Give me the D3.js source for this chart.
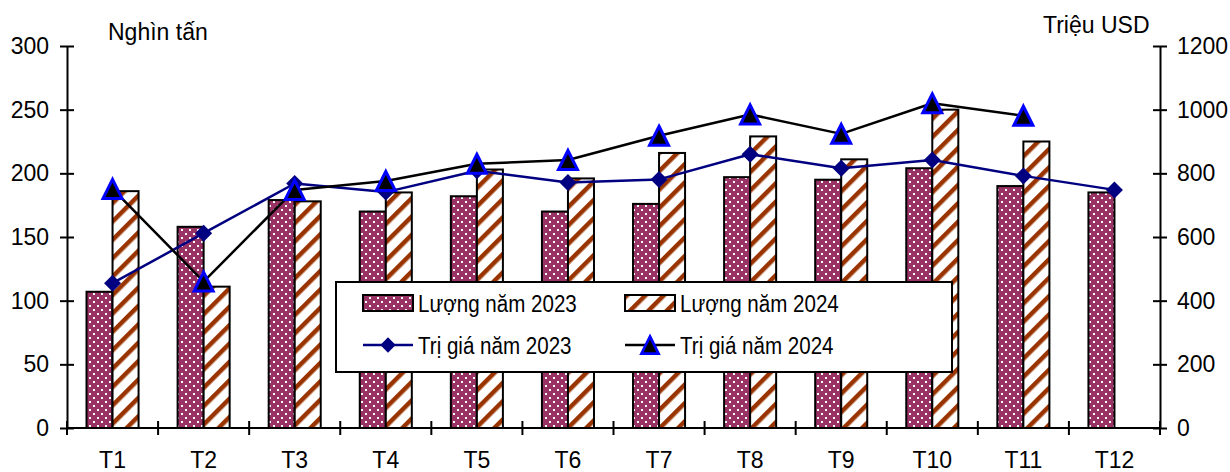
<!DOCTYPE html>
<html>
<head>
<meta charset="utf-8">
<script src="https://cdn.jsdelivr.net/npm/d3@7"></script>
<style>
  html, body { margin: 0; padding: 0; background: #fff; }
  svg { display: block; font-family: "Liberation Sans", Arial, sans-serif; }
</style>
</head>
<body>
<svg id="chart" width="1230" height="472"></svg>
<script>
// Monthly categories
const months = ["T1", "T2", "T3", "T4", "T5", "T6", "T7", "T8", "T9", "T10", "T11", "T12"];
// Volume (thousand tonnes) – left axis
const qty2023 = [107, 158, 179, 170, 182, 170, 176, 197, 195, 204, 190, 185];
const qty2024 = [186, 111, 178, 185, 203, 196, 216, 229, 211, 250, 225, null];
// Value (million USD) – right axis
const val2023 = [455, 612, 768, 741, 808, 771, 781, 860, 816, 842, 792, 748];
const val2024 = [751, 460, 748, 776, 830, 842, 918, 985, 924, 1020, 981, null];
// Axis ticks
const leftTicks = [0, 50, 100, 150, 200, 250, 300];
const rightTicks = [0, 200, 400, 600, 800, 1000, 1200];
const seriesKeys = ["2023", "2024"];

const C = {
  qty23: "#993366",
  stripe: "#993300",
  line23: "#000080",
  line24: "#000000",
  tri: "#0000ff"
};

const svg = d3.select("#chart");
const L = 67, R = 1160, T = 46, B = 428;

const x = d3.scaleBand().domain(months).range([L, R]).paddingInner(0).paddingOuter(0);
const xs = d3.scaleBand().domain(seriesKeys).range([0, x.bandwidth()]).paddingInner(0).paddingOuter(0.75);
const yL = d3.scaleLinear().domain([0, 300]).range([B, T]);
const yR = d3.scaleLinear().domain([0, 1200]).range([B, T]);

// Fill patterns
const defs = svg.append("defs");
const dots = defs.append("pattern").attr("id", "dots")
  .attr("patternUnits", "userSpaceOnUse").attr("width", 8).attr("height", 8);
dots.append("rect").attr("width", 8).attr("height", 8).attr("fill", C.qty23);
dots.append("rect").attr("x", 1).attr("y", 1).attr("width", 2).attr("height", 2).attr("fill", "#fff");
dots.append("rect").attr("x", 5).attr("y", 5).attr("width", 2).attr("height", 2).attr("fill", "#fff");

const stripes = defs.append("pattern").attr("id", "stripes")
  .attr("patternUnits", "userSpaceOnUse").attr("width", 13).attr("height", 13)
  .attr("patternTransform", "rotate(45)");
stripes.append("rect").attr("width", 13).attr("height", 13).attr("fill", "#fff");
stripes.append("rect").attr("width", 4.5).attr("height", 13).attr("fill", C.stripe);

// Bars
const barData = [];
months.forEach((m, i) => {
  if (qty2023[i] != null) barData.push({ m, k: "2023", v: qty2023[i] });
  if (qty2024[i] != null) barData.push({ m, k: "2024", v: qty2024[i] });
});
svg.append("g").selectAll("rect").data(barData).join("rect")
  .attr("x", d => x(d.m) + xs(d.k))
  .attr("y", d => yL(d.v))
  .attr("width", xs.bandwidth())
  .attr("height", d => yL(0) - yL(d.v))
  .attr("fill", d => d.k === "2023" ? "url(#dots)" : "url(#stripes)")
  .attr("stroke", "#000").attr("stroke-width", 2);

// Axes
const axisStyle = g => {
  g.selectAll("path.domain").attr("stroke", "#000").attr("stroke-width", 2);
  g.selectAll(".tick line").attr("stroke", "#000").attr("stroke-width", 2);
  g.selectAll(".tick text").attr("fill", "#000").attr("font-size", 23)
    .attr("font-family", "Liberation Sans, Arial, sans-serif");
};

const gL = svg.append("g").attr("transform", `translate(${L},0)`)
  .call(d3.axisLeft(yL).tickValues(leftTicks).tickFormat(d3.format("d"))
    .tickSizeOuter(0).tickSizeInner(7).tickPadding(11))
  .call(axisStyle);
gL.selectAll(".tick line").attr("x1", 7);

const gR = svg.append("g").attr("transform", `translate(${R},0)`)
  .call(d3.axisRight(yR).tickValues(rightTicks).tickFormat(d3.format("d"))
    .tickSizeOuter(0).tickSizeInner(7).tickPadding(10))
  .call(axisStyle);
gR.selectAll(".tick line").attr("x1", -7);

const gX = svg.append("g").attr("transform", `translate(0,${B})`)
  .call(d3.axisBottom(x).tickSize(0).tickSizeOuter(0).tickPadding(24))
  .call(axisStyle);
gX.select("path.domain").attr("d", `M${L},0H${R}`);

// Category boundary ticks on the horizontal axis
const bounds = months.map(m => x(m)).concat([x(months[months.length - 1]) + x.bandwidth()]);
gX.append("g").selectAll("line").data(bounds).join("line")
  .attr("x1", d => d).attr("x2", d => d).attr("y1", -7).attr("y2", 7)
  .attr("stroke", "#000").attr("stroke-width", 2);

// Axis titles
svg.append("text").attr("x", 108).attr("y", 40).attr("font-size", 23).text("Nghìn tấn");
svg.append("text").attr("x", 1043).attr("y", 33).attr("font-size", 23).text("Triệu USD");

// Marker shapes
const diamond = { draw(ctx, size) { const r = Math.sqrt(size) / 2; ctx.moveTo(0, -r); ctx.lineTo(r, 0); ctx.lineTo(0, r); ctx.lineTo(-r, 0); ctx.closePath(); } };
const triangle = { draw(ctx, size) { const s = Math.sqrt(size); ctx.moveTo(0, -s / 2); ctx.lineTo(s / 2, s / 2); ctx.lineTo(-s / 2, s / 2); ctx.closePath(); } };
const diamondPath = d3.symbol().type(diamond).size(17 * 17)();
const trianglePath = d3.symbol().type(triangle).size(19 * 19)();

const cx = m => x(m) + x.bandwidth() / 2;

function drawLine(values, color, markerPath, fill, stroke, sw) {
  const pts = months.map((m, i) => ({ m, v: values[i] })).filter(d => d.v != null);
  svg.append("path").datum(pts)
    .attr("d", d3.line().x(d => cx(d.m)).y(d => yR(d.v)))
    .attr("fill", "none").attr("stroke", color).attr("stroke-width", 2.5)
    .attr("stroke-linejoin", "round");
  svg.append("g").selectAll("path").data(pts).join("path")
    .attr("d", markerPath)
    .attr("transform", d => `translate(${cx(d.m)},${yR(d.v)})`)
    .attr("fill", fill).attr("stroke", stroke).attr("stroke-width", sw);
}
drawLine(val2023, C.line23, diamondPath, C.line23, "none", 0);
drawLine(val2024, C.line24, trianglePath, "#000", C.tri, 3);

// Legend
const lg = svg.append("g");
lg.append("rect").attr("x", 336).attr("y", 282).attr("width", 616).attr("height", 90)
  .attr("fill", "#fff").attr("stroke", "#000").attr("stroke-width", 2);

const legendItems = [
  { label: "Lượng năm 2023", kind: "bar", fill: "url(#dots)", x: 363, y: 303 },
  { label: "Lượng năm 2024", kind: "bar", fill: "url(#stripes)", x: 625, y: 303 },
  { label: "Trị giá năm 2023", kind: "line", color: C.line23, marker: diamondPath, mfill: C.line23, mstroke: "none", msw: 0, x: 363, y: 345 },
  { label: "Trị giá năm 2024", kind: "line", color: C.line24, marker: trianglePath, mfill: "#000", mstroke: C.tri, msw: 3, x: 625, y: 345 }
];
legendItems.forEach(it => {
  const g = lg.append("g");
  if (it.kind === "bar") {
    g.append("rect").attr("x", it.x).attr("y", it.y - 8).attr("width", 50).attr("height", 16)
      .attr("fill", it.fill).attr("stroke", "#000").attr("stroke-width", 2);
  } else {
    g.append("line").attr("x1", it.x).attr("x2", it.x + 50).attr("y1", it.y).attr("y2", it.y)
      .attr("stroke", it.color).attr("stroke-width", 2.5);
    g.append("path").attr("d", it.marker)
      .attr("transform", `translate(${it.x + 25},${it.y}) scale(0.9)`)
      .attr("fill", it.mfill).attr("stroke", it.mstroke).attr("stroke-width", it.msw);
  }
  g.append("text")
    .attr("transform", `translate(${it.x + 55},${it.y + 9}) scale(0.84,1)`)
    .attr("font-size", 24.5).text(it.label);
});
</script>
</body>
</html>
